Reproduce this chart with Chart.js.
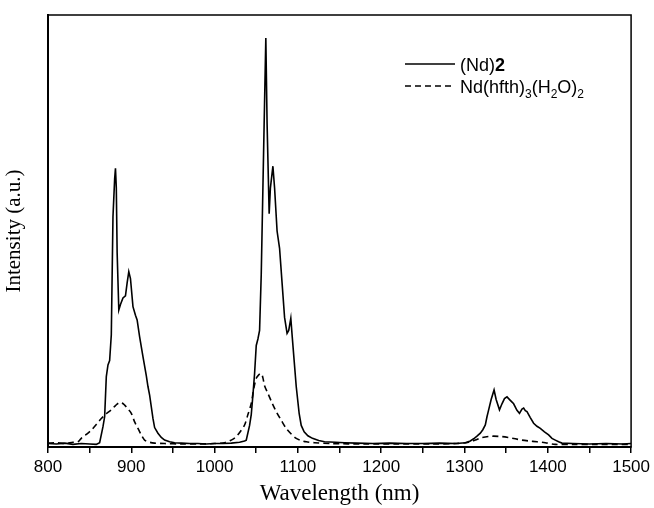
<!DOCTYPE html>
<html>
<head>
<meta charset="utf-8">
<script src="https://cdn.jsdelivr.net/npm/chart.js@4/dist/chart.umd.min.js"></script>
<style>
  html, body { margin: 0; padding: 0; background: #fff; }
  #wrap { width: 654px; height: 508px; }
</style>
</head>
<body>
<div id="wrap"><canvas id="spectrum"></canvas></div>
<script>
// (Nd)2 emission spectrum
const ndWavelength = [
  800, 810, 820, 830, 840, 850, 858, 862, 866, 868, 870, 872, 874, 876, 878, 880, 881, 882, 883, 885,
  887, 890, 893, 895, 897, 899, 902, 905, 907, 910, 914, 918, 920, 922, 926, 928, 932, 936, 940, 946,
  952, 960, 970, 980, 990, 1000, 1010, 1020, 1030, 1036, 1038, 1042, 1044, 1046, 1048, 1050, 1052, 1054, 1056, 1058,
  1060, 1061.5, 1063, 1065.5, 1067, 1070, 1072, 1075, 1078, 1081, 1084, 1087, 1089, 1091.5, 1093, 1095.5, 1098, 1101.5, 1104, 1107.5,
  1112, 1117.5, 1125, 1132, 1145, 1156, 1170, 1190, 1210, 1230, 1250, 1270, 1290, 1301, 1307, 1311, 1315, 1319, 1322, 1325,
  1327, 1329, 1332, 1335.5, 1338, 1342, 1345, 1348, 1351, 1355, 1359, 1363, 1366, 1369, 1371, 1373, 1375, 1379, 1383, 1387,
  1391, 1396, 1401, 1405, 1409, 1413, 1417, 1430, 1450, 1470, 1490, 1500
];
const ndIntensity = [
  0.008, 0.007, 0.009, 0.006, 0.008, 0.007, 0.006, 0.010, 0.047, 0.070, 0.163, 0.190, 0.200, 0.260, 0.533, 0.620, 0.645, 0.600, 0.450, 0.317,
  0.330, 0.345, 0.350, 0.380, 0.406, 0.390, 0.325, 0.305, 0.294, 0.255, 0.209, 0.165, 0.140, 0.120, 0.066, 0.045, 0.032, 0.022, 0.016, 0.012,
  0.010, 0.009, 0.008, 0.008, 0.007, 0.008, 0.008, 0.009, 0.011, 0.014, 0.016, 0.050, 0.075, 0.120, 0.170, 0.235, 0.250, 0.270, 0.400, 0.600,
  0.800, 0.947, 0.750, 0.540, 0.600, 0.650, 0.600, 0.500, 0.460, 0.380, 0.300, 0.263, 0.270, 0.298, 0.260, 0.200, 0.140, 0.078, 0.050, 0.035,
  0.026, 0.020, 0.015, 0.012, 0.011, 0.010, 0.009, 0.008, 0.009, 0.008, 0.008, 0.009, 0.008, 0.010, 0.014, 0.019, 0.025, 0.032, 0.040, 0.051,
  0.070, 0.086, 0.110, 0.132, 0.110, 0.086, 0.100, 0.112, 0.116, 0.108, 0.100, 0.085, 0.078, 0.088, 0.090, 0.084, 0.082, 0.068, 0.055, 0.048,
  0.043, 0.035, 0.028, 0.020, 0.016, 0.012, 0.009, 0.008, 0.007, 0.008, 0.007, 0.008
];

// Nd(hfth)3(H2O)2 reference spectrum
const refWavelength = [
  800, 810, 820, 830, 836, 840, 846, 852, 858, 864, 870, 876, 881, 886, 889, 892, 896, 900, 904, 908,
  912, 916, 922, 928, 940, 960, 980, 1000, 1012, 1020, 1026, 1031, 1036, 1040, 1044, 1047, 1050, 1053, 1056, 1058,
  1060, 1064, 1069, 1074, 1080, 1086, 1092, 1098, 1104, 1110, 1120, 1140, 1180, 1220, 1260, 1290, 1305, 1313, 1321, 1333,
  1345, 1353, 1361, 1369, 1377, 1387, 1397, 1409, 1430, 1460, 1500
];
const refIntensity = [
  0.009, 0.010, 0.008, 0.011, 0.012, 0.020, 0.029, 0.039, 0.052, 0.066, 0.077, 0.086, 0.096, 0.103, 0.102, 0.097, 0.088, 0.078, 0.058, 0.043,
  0.028, 0.016, 0.011, 0.009, 0.008, 0.007, 0.007, 0.008, 0.010, 0.016, 0.024, 0.036, 0.051, 0.075, 0.101, 0.135, 0.159, 0.167, 0.170, 0.160,
  0.142, 0.124, 0.102, 0.082, 0.062, 0.043, 0.030, 0.020, 0.015, 0.012, 0.010, 0.008, 0.007, 0.007, 0.007, 0.008, 0.011, 0.016, 0.022, 0.025,
  0.024, 0.022, 0.019, 0.016, 0.014, 0.012, 0.010, 0.006, 0.006, 0.006, 0.006
];

const xTickLabels = ['800', '900', '1000', '1100', '1200', '1300', '1400', '1500'];

const toPoints = (xs, ys) => xs.map((x, i) => ({ x: x, y: ys[i] }));

// box round the plot area
const frameBox = {
  id: 'frameBox',
  afterDraw(chart) {
    const { ctx, chartArea: a } = chart;
    ctx.save();
    ctx.strokeStyle = '#000';
    ctx.lineWidth = 1.5;
    ctx.strokeRect(a.left, a.top, a.right - a.left, a.bottom - a.top);
    ctx.restore();
  },
};

// legend with bold / subscript text
const richLegend = {
  id: 'richLegend',
  afterDraw(chart) {
    const ctx = chart.ctx;
    const size = 18;
    const sub = 12;
    const reg = `${size}px "Liberation Sans", Arial, sans-serif`;
    const bold = `bold ${size}px "Liberation Sans", Arial, sans-serif`;
    const small = `${sub}px "Liberation Sans", Arial, sans-serif`;
    ctx.save();
    ctx.strokeStyle = '#000';
    ctx.fillStyle = '#000';
    ctx.lineWidth = 1.5;
    ctx.textBaseline = 'alphabetic';

    const runs = (parts, x, y) => {
      parts.forEach(([txt, font, dy]) => {
        ctx.font = font;
        ctx.fillText(txt, x, y + dy);
        x += ctx.measureText(txt).width;
      });
    };

    // row 1 solid
    ctx.setLineDash([]);
    ctx.beginPath();
    ctx.moveTo(405, 64);
    ctx.lineTo(455, 64);
    ctx.stroke();
    runs([['(Nd)', reg, 0], ['2', bold, 0]], 460, 71);

    // row 2 dashed
    ctx.setLineDash([6, 4]);
    ctx.beginPath();
    ctx.moveTo(405, 86);
    ctx.lineTo(455, 86);
    ctx.stroke();
    ctx.setLineDash([]);
    runs([
      ['Nd(hfth)', reg, 0], ['3', small, 5], ['(H', reg, 0], ['2', small, 5],
      ['O)', reg, 0], ['2', small, 5],
    ], 460, 93);
    ctx.restore();
  },
};

new Chart(document.getElementById('spectrum'), {
  type: 'line',
  data: {
    datasets: [
      {
        label: '(Nd)2',
        data: toPoints(ndWavelength, ndIntensity),
        borderColor: '#000',
        borderWidth: 1.6,
        pointRadius: 0,
        tension: 0,
      },
      {
        label: 'Nd(hfth)3(H2O)2',
        data: toPoints(refWavelength, refIntensity),
        borderColor: '#000',
        borderWidth: 1.6,
        borderDash: [6, 4],
        pointRadius: 0,
        tension: 0.3,
      },
    ],
  },
  options: {
    responsive: true,
    maintainAspectRatio: false,
    animation: false,
    layout: { padding: { top: 15, right: 21, left: 0, bottom: 0 } },
    plugins: { legend: { display: false }, tooltip: { enabled: false } },
    scales: {
      x: {
        type: 'linear',
        min: 800,
        max: 1500,
        afterFit: (s) => { s.height = 61; },
        afterBuildTicks: (s) => {
          s.ticks = [];
          for (let v = 800; v <= 1500; v += 50) s.ticks.push({ value: v });
        },
        border: { display: true, color: '#000', width: 2 },
        grid: {
          drawOnChartArea: false,
          drawTicks: true,
          tickLength: 6,
          color: '#000',
          lineWidth: 1.5,
        },
        ticks: {
          autoSkip: false,
          maxRotation: 0,
          padding: 4,
          color: '#000',
          font: { family: '"Liberation Sans", Arial, sans-serif', size: 17 },
          callback: (v) => (v % 100 === 0 ? xTickLabels[(v - 800) / 100] : ''),
        },
        title: {
          display: true,
          text: 'Wavelength (nm)',
          color: '#000',
          padding: { top: 1, bottom: 0 },
          font: { family: '"Liberation Serif", "Times New Roman", serif', size: 23 },
        },
      },
      y: {
        min: 0,
        max: 1,
        afterFit: (s) => { s.width = 48; },
        border: { display: true, color: '#000', width: 2 },
        grid: { display: false },
        ticks: { display: false },
        title: {
          display: true,
          text: 'Intensity (a.u.)',
          color: '#000',
          padding: { top: 2, bottom: 0 },
          font: { family: '"Liberation Serif", "Times New Roman", serif', size: 21 },
        },
      },
    },
  },
  plugins: [frameBox, richLegend],
});
</script>
</body>
</html>
